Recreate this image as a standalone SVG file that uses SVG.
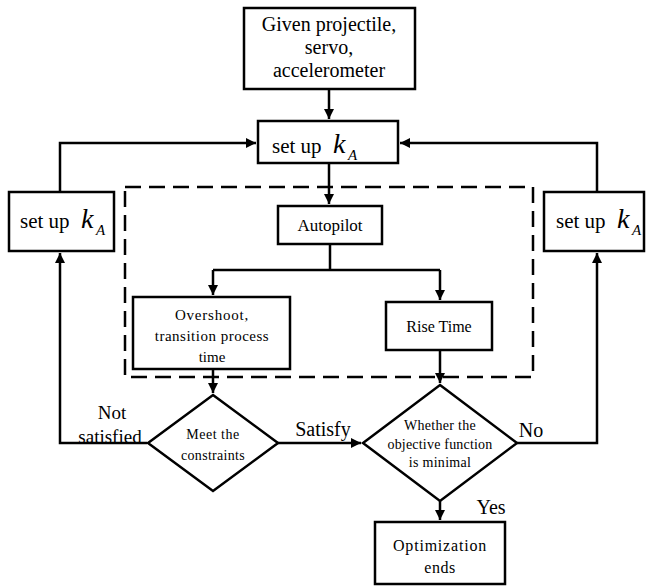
<svg xmlns="http://www.w3.org/2000/svg" width="646" height="586" viewBox="0 0 646 586">
<defs>
<marker id="ah" markerWidth="10" markerHeight="10" viewBox="0 0 10 10" refX="10" refY="5" orient="auto" markerUnits="userSpaceOnUse">
<path d="M0,0 L10,5 L0,10 Z" fill="#000"/>
</marker>
<style>
text{font-family:"Liberation Serif","Times New Roman","DejaVu Serif",serif;fill:#000}
.b{fill:#fff;stroke:#000;stroke-width:2.5}
.c{fill:none;stroke:#000;stroke-width:2.5}
.t{text-anchor:middle}
.k{font-style:italic}
</style>
</defs>
<rect width="646" height="586" fill="#fff"/>
<rect x="125" y="187" width="408" height="190" fill="none" stroke="#000" stroke-width="2.5" stroke-dasharray="16,8"/>
<g id="connectors">
<path class="c" d="M329,89 V119" marker-end="url(#ah)"/>
<path class="c" d="M329,163 V204" marker-end="url(#ah)"/>
<path class="c" d="M60,192 V143 H256" marker-end="url(#ah)"/>
<path class="c" d="M597,192 V143 H400" marker-end="url(#ah)"/>
<path class="c" d="M330,244 V270"/>
<path class="c" d="M213,270 H440"/>
<path class="c" d="M213,270 V295" marker-end="url(#ah)"/>
<path class="c" d="M440,270 V300" marker-end="url(#ah)"/>
<path class="c" d="M213,369 V393" marker-end="url(#ah)"/>
<path class="c" d="M440,350 V383" marker-end="url(#ah)"/>
<path class="c" d="M277,443 H361" marker-end="url(#ah)"/>
<path class="c" d="M147,443 H60 V253" marker-end="url(#ah)"/>
<path class="c" d="M517,443 H597 V253" marker-end="url(#ah)"/>
<path class="c" d="M440,501 V520" marker-end="url(#ah)"/>
<text class="t" x="112" y="419" font-size="19">Not</text>
<text class="t" x="110" y="443" font-size="19">satisfied</text>
<text class="t" x="323" y="436" font-size="20">Satisfy</text>
<text class="t" x="531" y="437" font-size="20">No</text>
<text class="t" x="491" y="514" font-size="20">Yes</text>
</g>
<g id="start">
<rect class="b" x="244" y="8" width="171" height="81"/>
<text class="t" x="329" y="31" font-size="20">Given projectile,</text>
<text class="t" x="329" y="54" font-size="20">servo,</text>
<text class="t" x="329" y="77" font-size="20">accelerometer</text>
</g>
<g id="setup-top">
<rect class="b" x="258" y="121" width="140" height="42"/>
<text x="272" y="153" font-size="21">set up</text>
<text class="k" x="333" y="153" font-size="28">k</text>
<text class="k" x="348" y="160" font-size="15">A</text>
</g>
<g id="setup-left">
<rect class="b" x="9" y="192" width="105" height="59"/>
<text x="20" y="228" font-size="21">set up</text>
<text class="k" x="81" y="228" font-size="28">k</text>
<text class="k" x="96" y="235" font-size="15">A</text>
</g>
<g id="setup-right">
<rect class="b" x="544" y="192" width="100" height="59"/>
<text x="556" y="228" font-size="21">set up</text>
<text class="k" x="617" y="228" font-size="28">k</text>
<text class="k" x="632" y="235" font-size="15">A</text>
</g>
<g id="autopilot">
<rect class="b" x="278" y="206" width="104" height="38"/>
<text class="t" x="330" y="231" font-size="17">Autopilot</text>
</g>
<g id="overshoot">
<rect class="b" x="133" y="297" width="157" height="72"/>
<text class="t" x="212" y="320" font-size="15" letter-spacing="0.8">Overshoot,</text>
<text class="t" x="212" y="341" font-size="15" letter-spacing="0.5">transition process</text>
<text class="t" x="212" y="362" font-size="15">time</text>
</g>
<g id="risetime">
<rect class="b" x="386" y="302" width="106" height="48"/>
<text class="t" x="439" y="332" font-size="16">Rise Time</text>
</g>
<g id="meet">
<path class="b" d="M213,395 L278,443 L213,491 L148,443 Z"/>
<text class="t" x="213" y="439" font-size="14" letter-spacing="0.5">Meet the</text>
<text class="t" x="213" y="460" font-size="14" letter-spacing="0.3">constraints</text>
</g>
<g id="objective">
<path class="b" d="M440,385 L517,443 L440,501 L363,443 Z"/>
<text class="t" x="440" y="430" font-size="14" letter-spacing="0.3">Whether the</text>
<text class="t" x="440" y="449" font-size="14" letter-spacing="0.2">objective function</text>
<text class="t" x="440" y="467" font-size="14" letter-spacing="0.3">is minimal</text>
</g>
<g id="end">
<rect class="b" x="375" y="522" width="130" height="62"/>
<text class="t" x="440" y="551" font-size="16" letter-spacing="0.8">Optimization</text>
<text class="t" x="440" y="573" font-size="16" letter-spacing="0.5">ends</text>
</g>
</svg>
